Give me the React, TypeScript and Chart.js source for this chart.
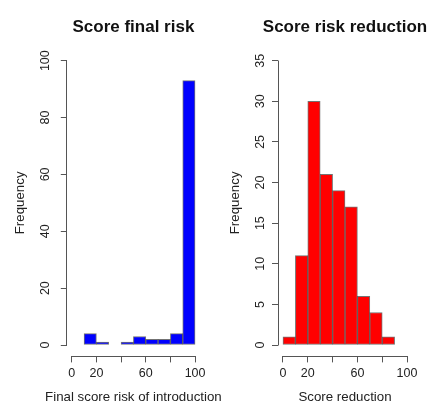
import React, { useEffect, useRef } from 'react';
import { Chart, registerables } from 'chart.js';

Chart.register(...registerables);

// ---- data ----
const finalRiskBinCenters = [15, 25, 35, 45, 55, 65, 75, 85, 95];
const finalRiskCounts = [4, 1, 0, 1, 3, 2, 2, 4, 93];
const reductionBinCenters = [5, 15, 25, 35, 45, 55, 65, 75, 85];
const reductionCounts = [1, 11, 30, 21, 19, 17, 6, 4, 1];
const xTickValues = [0, 20, 40, 60, 80, 100];
const xTickLabels = ['0', '20', '', '60', '', '100'];
const finalRiskYTicks = [0, 20, 40, 60, 80, 100];
const reductionYTicks = [0, 5, 10, 15, 20, 25, 30, 35];

const FONT = "'Liberation Sans', Arial, sans-serif";
const AXIS_COLOR = '#555555';
const TEXT_COLOR = '#222222';

const alignPx = (p: number) => Math.round(p - 0.5) + 0.5;

const rAxisPlugin = {
  id: 'rAxis',
  afterDraw(chart: any, _args: any, opts: any) {
    const { ctx, chartArea, scales } = chart;
    const xs = scales.x;
    const ys = scales.y;
    ctx.save();
    ctx.strokeStyle = AXIS_COLOR;
    ctx.lineWidth = 1;
    // y axis line (from first to last tick)
    const yTicks = ys.ticks;
    const yx = alignPx(chartArea.left);
    ctx.beginPath();
    ctx.moveTo(yx, alignPx(ys.getPixelForValue(yTicks[0].value)));
    ctx.lineTo(yx, alignPx(ys.getPixelForValue(yTicks[yTicks.length - 1].value)));
    ctx.stroke();
    // x axis line
    const xTicks = xs.ticks;
    const xy = alignPx(chartArea.bottom);
    ctx.beginPath();
    ctx.moveTo(alignPx(xs.getPixelForValue(xTicks[0].value)), xy);
    ctx.lineTo(alignPx(xs.getPixelForValue(xTicks[xTicks.length - 1].value)), xy);
    ctx.stroke();

    const cx = (chartArea.left + chartArea.right) / 2;
    ctx.textAlign = 'center';
    ctx.textBaseline = 'middle';
    // main title
    ctx.fillStyle = '#111111';
    ctx.font = `bold 17px ${FONT}`;
    ctx.fillText(opts.title, cx, opts.titleY);
    // x axis title
    ctx.fillStyle = TEXT_COLOR;
    ctx.font = `13.3px ${FONT}`;
    ctx.fillText(opts.xTitle, cx, opts.xTitleY);
    ctx.restore();
  },
};

type PanelProps = {
  left: number;
  width: number;
  title: string;
  xTitle: string;
  centers: number[];
  counts: number[];
  color: string;
  yTicks: number[];
  yMin: number;
  yMax: number;
  yWidth: number;
  padRight: number;
  yTitlePad: number;
};

function Panel(p: PanelProps) {
  const ref = useRef<HTMLCanvasElement | null>(null);
  useEffect(() => {
    if (!ref.current) return;
    const chart = new Chart(ref.current, {
      type: 'bar',
      data: {
        datasets: [
          {
            data: p.centers.map((c, i) => ({ x: c, y: p.counts[i] })),
            backgroundColor: p.color,
            borderColor: 'rgba(0,0,0,0.55)',
            borderWidth: 1,
            borderSkipped: false,
            barPercentage: 1,
            categoryPercentage: 1,
          } as any,
        ],
      },
      options: {
        animation: false,
        responsive: false,
        devicePixelRatio: 1,
        layout: { padding: { top: 49.3, left: 0, right: p.padRight, bottom: 0 } },
        plugins: {
          legend: { display: false },
          tooltip: { enabled: false },
          title: { display: false },
          rAxis: { title: p.title, xTitle: p.xTitle, titleY: 27, xTitleY: 397 },
        } as any,
        scales: {
          x: {
            type: 'linear',
            min: -4,
            max: 104,
            offset: false,
            afterBuildTicks: (s: any) => {
              s.ticks = xTickValues.map((v) => ({ value: v }));
            },
            afterFit: (s: any) => {
              s.height = 411 - 356.4;
              s.paddingLeft = 0;
              s.paddingRight = 0;
            },
            grid: {
              display: true,
              offset: false,
              drawOnChartArea: false,
              drawTicks: true,
              tickLength: 6,
              color: AXIS_COLOR,
              lineWidth: 1,
            },
            border: { display: false },
            ticks: {
              autoSkip: false,
              maxRotation: 0,
              minRotation: 0,
              padding: 4,
              color: TEXT_COLOR,
              font: { family: FONT, size: 12.5 },
              callback: (v: any) => {
                const i = xTickValues.indexOf(Number(v));
                return i >= 0 ? xTickLabels[i] : '';
              },
            },
          },
          y: {
            type: 'linear',
            min: p.yMin,
            max: p.yMax,
            afterBuildTicks: (s: any) => {
              s.ticks = p.yTicks.map((v) => ({ value: v }));
            },
            afterFit: (s: any) => {
              s.width = p.yWidth;
              s.paddingTop = 0;
              s.paddingBottom = 0;
            },
            grid: {
              display: true,
              drawOnChartArea: false,
              drawTicks: true,
              tickLength: 6,
              color: AXIS_COLOR,
              lineWidth: 1,
            },
            border: { display: false },
            ticks: {
              autoSkip: false,
              minRotation: 90,
              maxRotation: 90,
              crossAlign: 'center',
              padding: 4.5,
              color: TEXT_COLOR,
              font: { family: FONT, size: 12.5 },
            },
            title: {
              display: true,
              text: 'Frequency',
              color: TEXT_COLOR,
              font: { family: FONT, size: 13.3 },
              padding: { top: p.yTitlePad, bottom: 0 },
            },
          },
        } as any,
      },
      plugins: [rAxisPlugin],
    });
    return () => chart.destroy();
  }, []);
  return (
    <canvas
      ref={ref}
      width={p.width}
      height={411}
      style={{ position: 'absolute', left: p.left, top: 0, width: p.width, height: 411 }}
    />
  );
}

export default function App() {
  return (
    <div
      style={{
        position: 'fixed',
        left: 0,
        top: 0,
        width: 432,
        height: 411,
        overflow: 'hidden',
        background: '#ffffff',
      }}
    >
      <Panel
        left={0}
        width={232}
        title="Score final risk"
        xTitle="Final score risk of introduction"
        centers={finalRiskBinCenters}
        counts={finalRiskCounts}
        color="#0000ff"
        yTicks={finalRiskYTicks}
        yMin={-4}
        yMax={104}
        yWidth={66.8}
        padRight={32}
        yTitlePad={12}
      />
      <Panel
        left={216}
        width={216}
        title="Score risk reduction"
        xTitle="Score reduction"
        centers={reductionBinCenters}
        counts={reductionCounts}
        color="#ff0000"
        yTicks={reductionYTicks}
        yMin={-1.4}
        yMax={36.4}
        yWidth={62}
        padRight={20}
        yTitlePad={11}
      />
    </div>
  );
}
